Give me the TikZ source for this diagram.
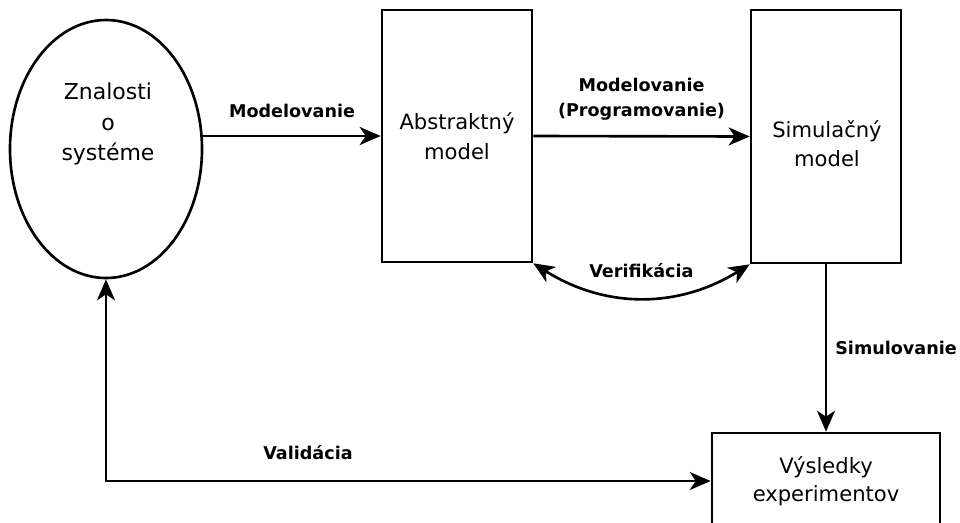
\documentclass[tikz,border=0pt]{standalone}
\usepackage{fontspec}
\setmainfont{DejaVu Sans}
\usetikzlibrary{shapes.geometric}
\usetikzlibrary{arrows.meta}

\begin{document}
\begin{tikzpicture}
[blocknode/.style={rectangle,draw,line width=1.5pt,inner sep=0pt,
align=center,font=\fontsize{12}{16}\selectfont},
knownode/.style={ellipse,draw,line width=1.5pt,inner sep=0pt,
minimum width=3.84cm,minimum height=5.16cm},
tip/.tip={Stealth[length=4.2mm,width=3.6mm,inset=1.2mm]},
flow/.style={line width=1.5pt,-tip},
twoflow/.style={line width=1.5pt,tip-tip},
edgelabel/.style={inner sep=0pt,align=center,
font=\fontsize{10}{14}\selectfont\bfseries}
]
\useasboundingbox (0,0) rectangle (19.2,-10.44);
% knowledge of the system
\node [knownode] (know) at (2.12,-2.98) {};
\node [align=center,font=\fontsize{12.5}{17.5}\selectfont] (knowtext)
at (2.16,-2.48) {Znalosti\\o\\systéme};
% models
\node [blocknode,minimum width=3cm,minimum height=5.04cm,
font=\fontsize{12}{17}\selectfont] (abs)
at (9.14,-2.72) {Abstraktný\\model};
\node [blocknode,minimum width=3cm,minimum height=5.06cm] (sim)
at (16.52,-2.73) {};
\node [align=center,font=\fontsize{12}{16.5}\selectfont] (simtext)
at (16.54,-2.88) {Simulačný\\model};
\node [blocknode,minimum width=4.56cm,minimum height=1.92cm] (res)
at (16.52,-9.62) {Výsledky\\experimentov};
% connectors
\draw [flow] (know.east |- abs.west) -- node [edgelabel,yshift=0.5cm]
(modlabel) {Modelovanie} (abs.west);
\draw [flow] (abs.east) -- node [edgelabel,yshift=0.74cm] (proglabel)
{Modelovanie\\(Programovanie)} (sim.west);
\draw [twoflow] (abs.south east) to[bend right=32] node
[edgelabel,yshift=0.54cm] (verlabel) {Verifikácia} (sim.south west);
\draw [flow] (sim.south) -- node [edgelabel,xshift=1.4cm] (simlabel)
{Simulovanie} (res.north);
\draw [twoflow] (res.west) -| node [edgelabel,pos=0.333,yshift=0.56cm]
(vallabel) {Validácia} (know.south);
\end{tikzpicture}
\end{document}
